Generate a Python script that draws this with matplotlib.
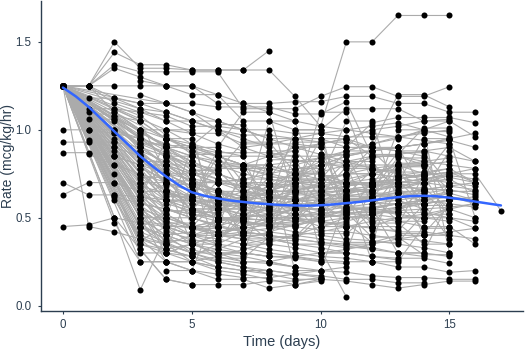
import matplotlib.pyplot as plt
import numpy as np

N = None
# one row per patient: infusion rate on day 0, 1, 2, ... (None = no record that day)
rates = [
    [1.25, 1.25, 1.50, 1.35, 1.35, 1.34, 1.34, 1.34, 1.45],
    [1.25, 1.25, 1.44, 1.37, 1.37, 1.34, 1.34, 1.34, 1.34, 1.19, 1.02, 1.50, 1.50, 1.65, 1.65, 1.65],
    [1.25, 1.25, 1.37, 1.33, 1.33, 1.33, 1.33, 1.12, 1.12, 1.12, 1.19, 1.245, 1.245, 1.19, 1.19, 1.245],
    [1.25, 1.25, 1.35, 1.30, 1.25, 1.25, 1.15, 1.15, 1.15, 1.16, 1.16, 1.19, 1.19, 1.15, 1.15, 1.10, 1.10],
    [1.25, N, 1.25, 1.25, 1.25, 1.20, 1.20, 1.05, 1.05, 1.00, 1.00, 1.12, 1.12, 1.12, 1.05, 1.05, 0.96],
    [1.25, 1.18, 1.18, 1.15, 1.15, 1.15, 1.13, 1.13, 1.13, 1.09, 1.09, 1.16, 0.85, 0.85, 0.80],
    [1.25, 1.12, 1.12, 1.10, 1.05, 1.05, 1.05, 1.00, 0.95, 0.95, 0.95, 0.90, 0.90, 1.20, 1.20, 1.13],
    [1.25, 1.06, 1.06, 1.00, 1.00, 0.98, 0.98, 0.92, 0.92, 0.92, 0.90, 0.90, 1.04, 1.07, 1.07, 1.07, 1.04],
    [1.00, 1.00, 1.00, 0.95, 0.90, 0.90, 0.87, 0.87, 0.87, 0.85, 0.85, 0.80, 0.80, 0.80, 0.75, 0.75, 0.75, 0.54],
    [0.93, 0.93, 0.93, 0.90, 0.85, 0.85, 0.80, 0.80, 0.80, 0.75, 0.75, 0.70, 0.70],
    [0.87, 0.87, 0.85, 0.80, 0.80, 0.75, 0.75, 0.70, 0.70, 0.65, 0.65, 0.60, 0.60, 0.60, 0.55],
    [0.70, 0.63, 0.63, 0.62, 0.60, 0.60, 0.55, 0.55, 0.50, 0.50, 0.45, 0.45],
    [0.63, 0.70, 0.70, 0.65, 0.65, 0.60, 0.60, 0.58, 0.58, 0.55, 0.55, 0.52, 0.52, 0.50, 0.50],
    [0.45, 0.46, 0.50, 0.47, 0.45, 0.40, 0.40, 0.38, 0.38, 0.35, 0.35, 0.33, 0.33],
    [1.25, 0.45, 0.42, 0.38, 0.35, 0.30, 0.30, 0.25, 0.25, 0.22],
    [1.25, 0.86, 0.80, 0.75, 0.70, 0.65, 0.60, 0.60, 0.65, 0.70, 0.70, 0.75, 0.75, 0.80],
    [1.25, 0.94, 0.90, 0.85, 0.80, 0.75, 0.70, 0.65, 0.62, 0.60, 0.60, 0.65, 0.65, 0.70, 0.70, 0.72],
    [1.25, 1.00, 0.98, 0.95, 0.85, 0.80, 0.78, 0.78, 0.75, 0.72, 0.70, 0.70, 0.68, 0.68, 0.66, 0.66, 0.63],
    [1.25, 1.10, 1.08, 1.05, 0.95, 0.92, 0.88, 0.85, 0.85, 0.82, 0.82, 0.78, 0.78, 0.76, 0.76, 0.73, 0.70],
    [1.25, 1.25, 1.18, 1.12, 1.10, 1.05, 1.00, 0.97, 0.97, 0.95, 0.93, 0.93, 0.90, 0.88, 0.88, 0.85, 0.82],
    [1.25, 1.25, 1.15, 1.10, 1.08, 1.02, 1.02, 1.00, 1.00, 0.98, 0.98, 0.96, 0.96, 0.96, 0.99, 0.99],
    [1.25, 1.25, 1.10, 1.00, 0.90, 0.85, 0.80, 0.75, 0.72, 0.70, 0.68, 0.66, 0.64, 0.64, 0.62, 0.62, 0.60],
    [1.25, N, 1.08, 0.95, 0.85, 0.75, 0.70, 0.68, 0.65, 0.65, 0.70, 0.75, 0.75, 0.80, 0.80],
    [1.25, N, 1.06, 0.90, 0.80, 0.72, 0.65, 0.60, 0.58, 0.55, 0.55, 0.60, 0.60, 0.62, 0.62, 0.65, 0.65],
    [1.25, N, 1.00, 0.85, 0.70, 0.60, 0.55, 0.52, 0.50, 0.48, 0.48, 0.45, 0.45, 0.50, 0.50, 0.55, 0.58],
    [1.25, N, 0.98, 0.80, 0.65, 0.55, 0.50, 0.48, 0.45, 0.45, 0.50, 0.55, 0.55, 0.58, 0.58, 0.60],
    [1.25, N, 0.95, 0.75, 0.60, 0.52, 0.48, 0.45, 0.42, 0.40, 0.38, 0.36, 0.36, 0.40, 0.40, 0.42, 0.44],
    [1.25, N, 0.93, 0.70, 0.55, 0.50, 0.45, 0.42, 0.40, 0.38, 0.36, 0.35, 0.33, 0.30, 0.30, 0.28],
    [1.25, N, 0.90, 0.65, 0.52, 0.45, 0.40, 0.38, 0.35, 0.33, 0.30, 0.30, 0.28, 0.27, 0.27, 0.24],
    [1.25, N, 0.85, 0.60, 0.48, 0.40, 0.35, 0.33, 0.30, 0.28, 0.26, 0.25, 0.25, 0.22, 0.22, 0.19, 0.20],
    [1.25, N, 0.80, 0.55, 0.45, 0.35, 0.30, 0.28, 0.25, 0.22, 0.20, 0.19, 0.17, 0.16, 0.16, 0.15, 0.15],
    [1.25, N, 0.75, 0.50, 0.40, 0.30, 0.25, 0.22, 0.18, 0.15, 0.15, 0.14, 0.12, 0.10, 0.12, 0.14, 0.14],
    [1.25, N, 0.70, 0.45, 0.35, 0.25, 0.20, 0.18, 0.15, 0.12, 0.15],
    [1.25, N, 0.63, 0.40, 0.30, 0.25, 0.22, 0.20, 0.20, 0.18, 0.17, 0.15, 0.15, 0.13, 0.13],
    [1.25, N, 0.60, 0.38, 0.25, 0.20, 0.15, 0.15, 0.10, 0.12, 0.14],
    [1.25, N, 0.50, 0.32, 0.15, 0.12, 0.12, 0.12, 0.14, 0.14, 0.16],
    [1.25, N, 0.47, 0.25, 0.25, 0.20, 0.18, 0.16, 0.16, 0.18, 0.20, 0.22],
    [1.25, N, 0.50, 0.09, 0.40, 0.35, 0.30, 0.30, 0.28, 0.28, 0.25],
    [1.25, N, N, 1.00, 0.95, 0.90, 0.85, 0.80, 0.80, 0.75, 0.75, 0.70, 0.70, 0.70, 0.65],
    [1.25, N, N, 0.95, 0.90, 0.80, 0.75, 0.70, 0.65, 0.65, 0.60, 0.60, 0.60],
    [1.25, N, N, 0.90, 0.80, 0.70, 0.65, 0.62, 0.60, 0.58, 0.58, 0.55, 0.55, 0.53, 0.53, 0.50, 0.48],
    [1.25, N, N, 0.85, 0.75, 0.68, 0.62, 0.58, 0.55, 0.55, 0.52, 0.50, 0.50, 0.48, 0.45, 0.45],
    [1.25, N, N, 0.80, 0.70, 0.65, 0.60, 0.55, 0.52, 0.50, 0.48, 0.46, 0.44, 0.42, 0.42, 0.40, 0.38],
    [1.25, N, N, 0.75, 0.65, 0.58, 0.55, 0.50, 0.48, 0.45, 0.43, 0.42, 0.40, 0.38, 0.37, 0.35],
    [1.25, N, N, 0.70, 0.60, 0.55, 0.50, 0.47, 0.45, 0.42, 0.40, 0.38, 0.37, 0.35, 0.33, 0.30],
    [1.25, N, N, 0.65, 0.55, 0.50, 0.45, 0.42, 0.40, 0.38, 0.36, 0.34, 0.32, 0.30, 0.28],
    [1.25, N, N, 0.60, 0.50, 0.45, 0.42, 0.40, 0.38, 0.35, 0.33, 0.30, 0.28, 0.26],
    [1.25, N, N, 0.55, 0.45, 0.40, 0.38, 0.35, 0.32, 0.30, 0.28, 0.27, 0.25],
    [1.25, N, N, 0.50, 0.40, 0.35, 0.32, 0.30, 0.28, 0.27, 0.25, 0.24],
    [1.25, N, N, 0.45, 0.38, 0.32, 0.28, 0.25, 0.24, 0.22],
    [1.25, N, N, 0.40, 0.35, 0.40, 0.45, 0.50, 0.55, 0.60, 0.65, 0.70, 0.75, 0.78, 0.80, 0.82],
    [1.25, N, N, 0.35, 0.30, 0.35, 0.40, 0.45, 0.50, 0.55, 0.60, 0.62, 0.65, 0.68, 0.70],
    [1.25, N, N, N, 0.30, 0.28, 0.35, 0.42, 0.48, 0.52, 0.58, 0.63, 0.68, 0.72, 0.75, 0.78, 0.70],
    [1.25, N, N, N, 0.60, 0.55, 0.52, 0.58, 0.65, 0.72, 0.80, 0.85, 0.88, 0.90, 0.92, 0.95],
    [1.25, N, N, N, 0.70, 0.62, 0.58, 0.62, 0.68, 0.75, 0.82, 0.88, 0.92, 0.95, 1.00, 1.05],
    [1.25, N, N, N, 0.80, 0.70, 0.65, 0.60, 0.62, 0.65, 0.68, 0.72, 0.75, 0.73, 0.70, 0.68, 0.66],
    [1.25, N, N, N, 0.90, 0.82, 0.75, 0.70, 0.68, 0.72, 0.76, 0.80, 0.84, 0.86, 0.88, 0.90, 0.82],
    [1.25, N, N, N, 1.00, 0.92, 0.85, 0.80, 0.78, 0.80, 0.84, 0.88, 0.92, 0.96, 0.98, 1.00],
    [1.25, N, N, N, 1.15, 1.10, 1.00, 0.90, 0.85, 0.88, 0.92, 0.95, 1.00, 1.02, 1.05, 1.06],
    [1.25, N, N, N, 0.50, 0.45, 0.48, 0.52, 0.56, 0.60, 0.63, 0.66, 0.68, 0.70, 0.72, 0.74, 0.72],
    [1.25, N, N, N, 0.45, 0.40, 0.42, 0.45, 0.50, 0.55, 0.58, 0.60, 0.62, 0.62, 0.64, 0.66],
    [1.25, N, N, N, 0.35, 0.30, 0.32, 0.38, 0.42, 0.46, 0.50, 0.54, 0.56, 0.58, 0.60, 0.62],
    [1.25, N, N, N, 0.25, 0.25, 0.28, 0.32, 0.36, 0.40, 0.45, 0.50, 0.52, 0.54, 0.55, 0.56, 0.58],
    [N, N, 1.10, 1.00, 0.90, 0.85, 0.82, 0.80, 0.85, 0.90, 0.92, 0.95, 0.90, 0.88, 0.85],
    [N, N, 1.12, 1.05, 0.95, 0.88, 0.85, 0.80, 0.78, 0.75, 0.72, 0.70, 0.68, 0.70, 0.72, 0.74],
    [N, N, 0.85, 0.80, 0.75, 0.72, 0.70, 0.68, 0.66, 0.64, 0.64, 0.66, 0.68, 0.70, 0.72, 0.75, 0.78],
    [N, N, 0.62, 0.58, 0.55, 0.52, 0.50, 0.50, 0.52, 0.55, 0.58, 0.60, 0.62, 0.64, 0.66, 0.68],
    [N, N, N, 0.98, 0.92, 0.88, 0.82, 0.78, 0.74, 0.70, 0.68, 0.66, 0.64, 0.62, 0.60, 0.58, 0.56],
    [N, N, N, 0.88, 0.82, 0.76, 0.72, 0.68, 0.64, 0.60, 0.58, 0.56, 0.54, 0.52, 0.50, 0.48],
    [N, N, N, 0.78, 0.72, 0.68, 0.64, 0.60, 0.58, 0.56, 0.54, 0.56, 0.58, 0.60, 0.62, 0.64],
    [N, N, N, 0.68, 0.64, 0.60, 0.58, 0.56, 0.54, 0.52, 0.50, 0.52, 0.54, 0.56, 0.58, 0.60, 0.62],
    [N, N, N, 0.58, 0.55, 0.52, 0.50, 0.48, 0.46, 0.48, 0.50, 0.52, 0.55, 0.58, 0.60],
    [N, N, N, 0.48, 0.46, 0.44, 0.42, 0.44, 0.46, 0.50, 0.54, 0.58, 0.62, 0.66, 0.70, 0.74],
    [N, N, N, 1.20, 1.15, 1.10, 1.05, 1.00, 0.95, 0.90, 0.86, 0.82, 0.78, 0.75, 0.72, 0.70, 0.68],
    [N, N, N, 1.28, 1.25, 1.25, 1.20, 1.15, 1.10, 1.05, 1.02, 1.00, 0.98, 0.96, 0.94, 0.92],
    [1.25, N, 1.00, 0.92, 0.86, 0.80],
    [1.25, N, N, 0.96, 0.88, 0.82, 0.76],
    [1.25, N, N, 0.86, 0.78, 0.70, 0.66, 0.62],
    [1.25, N, N, 0.72, 0.66, 0.62, 0.58],
    [1.25, N, N, 0.62, 0.58, 0.54, 0.50, 0.48, 0.46],
    [1.25, N, N, 0.52, 0.48, 0.44, 0.40],
    [1.25, N, N, 0.42, 0.36, 0.30, 0.26, 0.24],
    [1.25, N, N, 0.38, 0.32, 0.28, 0.22],
    [1.25, N, N, 0.32, 0.15, 0.12],
    [1.25, N, N, 0.25, 0.25, 0.25, 0.22, 0.20, 0.18],
    [1.25, N, N, 1.12, 1.05, 0.98, 0.92, 0.88],
    [1.25, N, N, 1.15, 1.10, 1.05, 1.00, 0.95, 0.90],
    [1.25, N, N, N, 0.55, 0.50, 0.46, 0.42, 0.40],
    [1.25, N, N, N, 0.65, 0.60, 0.56, 0.52],
    [1.25, N, N, N, 0.75, 0.68, 0.62, 0.58, 0.55, 0.52],
    [1.25, N, N, N, 0.85, 0.78, 0.72, 0.66, 0.62, 0.60, 0.58],
    [1.25, N, N, N, 0.42, 0.38, 0.34, 0.30, 0.28],
    [1.25, N, N, N, 0.32, 0.28, 0.25, 0.22, 0.20, 0.18, 0.16],
    [1.25, N, N, N, 0.95, 0.90, 0.85, 0.80, 0.76],
    [N, N, N, N, N, 0.70, 0.70, 0.72, 0.75, 0.78, 0.80, 0.82, 0.85, 0.85, 0.82, 0.80, 0.78],
    [N, N, N, N, N, 0.55, 0.55, 0.58, 0.60, 0.64, 0.66, 0.68, 0.70, 0.72, 0.74, 0.76],
    [N, N, N, N, N, 0.45, 0.48, 0.50, 0.52, 0.55, 0.58, 0.60, 0.62, 0.64, 0.66, 0.68, 0.70],
    [N, N, N, N, N, N, 0.60, 0.62, 0.64, 0.66, 0.68, 0.70, 0.72, 0.74, 0.76, 0.78],
    [N, N, N, N, N, N, 0.40, 0.42, 0.44, 0.46, 0.48, 0.50, 0.52, 0.55, 0.58, 0.60],
    [N, N, N, N, N, N, N, 0.90, 0.92, 0.95, 0.98, 1.00, 1.02, 1.04, 1.00, 0.96],
    [N, N, N, N, N, N, N, 0.35, 0.38, 0.40, 0.42, 0.45, 0.48, 0.50, 0.52, 0.55, 0.50],
    [N, N, N, N, N, N, N, N, 0.80, 0.82, 0.84, 0.86, 0.88, 0.90, 0.92, 0.94, 0.90],
    [N, N, N, N, N, N, N, N, 0.25, 0.28, 0.30, 0.32, 0.35, 0.38, 0.40, 0.42],
    [N, N, N, N, N, N, N, N, N, 0.65, 0.65, 0.68, 0.70, 0.72, 0.74, 0.76, 0.70],
    [N, N, N, N, N, N, N, N, N, N, 0.45, 0.48, 0.52, 0.56, 0.60, 0.64, 0.60],
    [N, N, N, N, N, N, N, N, N, N, 0.32, 0.05],
    [1.25, N, N, 0.65, 0.60, 0.58, 0.60, 0.65, 0.70, 0.75, 0.80, 0.85, 0.88, 0.90, 0.92, 0.95, 0.98],
    [1.25, N, N, 0.55, 0.50, 0.50, 0.55, 0.60, 0.65, 0.70, 0.72, 0.75, 0.78, 0.80, 0.82, 0.84],
    [1.25, N, N, 0.45, 0.40, 0.42, 0.48, 0.52, 0.56, 0.60, 0.62, 0.64, 0.66, 0.68, 0.70, 0.72, 0.64],
    [1.25, N, N, 0.35, 0.32, 0.35, 0.40, 0.45, 0.48, 0.50, 0.52, 0.54, 0.56, 0.58, 0.60, 0.62, 0.58],
    [1.25, N, N, 0.90, 0.60, 0.60, 0.85, 0.85, 0.50, 0.50, 0.80, 0.80, 0.45, 0.45, 0.75],
    [1.25, N, N, 0.30, 0.30, 0.70, 0.70, 0.35, 0.35, 0.90, 0.90, 0.55, 0.55, 0.30, 0.30, 0.60],
    [N, N, N, N, 1.00, 1.00, 0.40, 0.40, 0.85, 0.85, 0.30, 0.30, 0.70, 0.70, 0.95, 0.95, 0.50],
    [N, N, N, N, 0.20, 0.20, 0.55, 0.55, 1.05, 1.05, 0.65, 0.65, 0.25, 0.25, 0.45, 0.45, 0.35],
    [1.25, N, N, 0.60, 0.95, 0.95, 0.50, 0.50, 0.62, 0.62, 1.10, 1.10, 0.70, 0.70, 0.40, 0.40],
    [1.25, N, N, 1.05, 0.75, 0.75, 0.30, 0.30, 0.68, 0.68, 0.95, 0.95, 0.85, 0.85, 0.50, 0.50, 0.44],
    [1.25, N, N, 0.82, 0.82, 0.45, 0.45, 0.78, 0.78, 0.20, 0.20, 0.60, 0.60, 1.00, 1.00, 0.30],
    [1.25, N, N, 0.50, 0.50, 0.90, 0.90, 1.10, 1.10, 0.60, 0.60, 0.35, 0.35, 0.80, 0.80],
    [N, N, N, 0.70, 0.70, 0.35, 0.35, 0.58, 0.58, 1.00, 1.00, 0.45, 0.45, 0.65, 0.65, 0.88],
    [1.25, N, N, 0.92, 0.92, 0.62, 0.62, 0.40, 0.40, 0.72, 0.72, 1.05, 1.05, 0.58, 0.58, 0.38],
    [1.25, N, N, 0.78, 0.62, 0.62, 0.88, 0.70, 0.70, 0.52, 0.52, 0.66, 0.66, 0.84, 0.84, 0.60],
    [1.25, N, 1.05, 0.88, 0.68, 0.55, 0.55, 0.72, 0.72, 0.93, 0.93, 0.62, 0.62, 0.48, 0.48, 0.70],
    [1.25, N, N, 0.67, 0.80, 0.80, 0.58, 0.58, 0.46, 0.46, 0.74, 0.74, 0.90, 0.90, 0.66],
    [1.25, N, N, 1.08, 0.97, 0.86, 0.86, 0.64, 0.64, 0.78, 0.78, 0.56, 0.56, 0.74, 0.74, 0.92],
    [1.25, N, N, 0.57, 0.47, 0.47, 0.65, 0.65, 0.83, 0.83, 0.61, 0.61, 0.43, 0.43, 0.57, 0.57],
    [N, N, N, 0.88, 0.76, 0.66, 0.66, 0.54, 0.54, 0.68, 0.68, 0.82, 0.82, 0.64, 0.64, 0.52],
    [1.25, N, N, 0.73, 0.73, 0.53, 0.53, 0.41, 0.41, 0.55, 0.55, 0.69, 0.69, 0.87, 0.87, 0.69],
    [1.25, N, N, 0.97, 0.84, 0.72, 0.60, 0.60, 0.47, 0.47, 0.63, 0.63, 0.77, 0.77, 0.58],
    [1.25, N, 0.88, 0.62, 0.52, 0.44, 0.44, 0.56, 0.56, 0.72, 0.72, 0.88, 0.88, 0.74, 0.74, 0.50],
    [1.25, N, N, 0.44, 0.54, 0.54, 0.71, 0.71, 0.57, 0.57, 0.41, 0.41, 0.53, 0.53, 0.67],
    [N, N, N, N, 0.63, 0.63, 0.79, 0.79, 0.61, 0.61, 0.47, 0.47, 0.36, 0.36, 0.52, 0.52],
    [N, N, N, 0.93, 0.87, 0.77, 0.77, 0.93, 0.93, 0.76, 0.76, 0.63, 0.63, 0.81, 0.81],
    [1.25, N, N, 0.53, 0.43, 0.37, 0.37, 0.49, 0.49, 0.63, 0.63, 0.79, 0.79, 0.67, 0.67, 0.55],
    [1.25, N, N, 0.83, 0.71, 0.71, 0.57, 0.57, 0.69, 0.69, 0.86, 0.86, 0.58, 0.58, 0.44, 0.44],
    [1.25, N, N, 0.63, 0.69, 0.69, 0.49, 0.49, 0.37, 0.37, 0.51, 0.51, 0.71, 0.71, 0.57],
    [N, N, N, N, N, 0.77, 0.77, 0.63, 0.63, 0.49, 0.49, 0.61, 0.61, 0.79, 0.79, 0.66],
    [N, N, N, N, N, 0.37, 0.37, 0.51, 0.51, 0.67, 0.67, 0.53, 0.53, 0.41, 0.41, 0.57],
    [1.25, N, N, 0.47, 0.37, 0.37, 0.27, 0.27, 0.39, 0.39, 0.53, 0.53, 0.39, 0.39, 0.29, 0.29],
    [1.25, N, N, 0.99, 0.91, 0.91, 1.03, 1.03, 0.88, 0.88, 0.74, 0.74, 0.86, 0.86, 1.01, 1.01],
    [1.25, N, N, 0.37, 0.45, 0.45, 0.59, 0.59, 0.73, 0.73, 0.59, 0.59, 0.47, 0.47, 0.35, 0.35],
]

# smoothed mean curve
smooth_day = [0, 0.5, 1, 1.5, 2, 2.5, 3, 3.5, 4, 4.5, 5, 5.5, 6, 6.5, 7, 7.5, 8, 8.5,
              9, 9.5, 10, 10.5, 11, 11.5, 12, 12.5, 13, 13.5, 14, 14.5, 15, 15.5, 16, 16.5, 17]
smooth_rate = [1.24, 1.19, 1.13, 1.06, 0.99, 0.92, 0.85, 0.79, 0.735, 0.685, 0.645, 0.625,
               0.61, 0.598, 0.59, 0.582, 0.577, 0.572, 0.57, 0.569, 0.571, 0.576, 0.583,
               0.59, 0.599, 0.609, 0.617, 0.623, 0.625, 0.622, 0.614, 0.604, 0.592, 0.581, 0.57]

xticks = [0, 5, 10, 15]
yticks = [0.0, 0.5, 1.0, 1.5]

axis_col = '#2C3E50'
plt.rcParams['font.family'] = ['Liberation Sans', 'DejaVu Sans']

fig, ax = plt.subplots(figsize=(5.26, 3.51), dpi=100)
fig.subplots_adjust(left=0.078, right=0.994, bottom=0.114, top=0.996)

all_x, all_y = [], []
for row in rates:
    days = [d for d, r in enumerate(row) if r is not None]
    vals = [r for r in row if r is not None]
    ax.plot(days, vals, color='#ABABAB', lw=0.8, zorder=1)
    all_x += days
    all_y += vals
ax.scatter(all_x, all_y, s=19, color='black', lw=0, zorder=2)
ax.plot(smooth_day, smooth_rate, color='#3366FF', lw=1.8, zorder=3, solid_capstyle='round')

ax.set_xlim(-0.85, 17.85)
ax.set_ylim(-0.03, 1.73)
ax.set_xticks(xticks)
ax.set_yticks(yticks)
ax.set_yticklabels(['%.1f' % v for v in yticks])
for s in ['top', 'right']:
    ax.spines[s].set_visible(False)
for s in ['left', 'bottom']:
    ax.spines[s].set_color(axis_col)
    ax.spines[s].set_linewidth(1.0)
ax.tick_params(colors=axis_col, labelcolor=axis_col, labelsize=8.3, length=2.5, width=0.8)
ax.tick_params(axis='y', pad=4.5)
ax.tick_params(axis='x', pad=3)
ax.set_xlabel('Time (days)', color=axis_col, fontsize=10.5, labelpad=3)
ax.set_ylabel('Rate (mcg/kg/hr)', color=axis_col, fontsize=10)
ax.yaxis.set_label_coords(-0.054, 0.5)

fig.savefig('out.png', dpi=100)
